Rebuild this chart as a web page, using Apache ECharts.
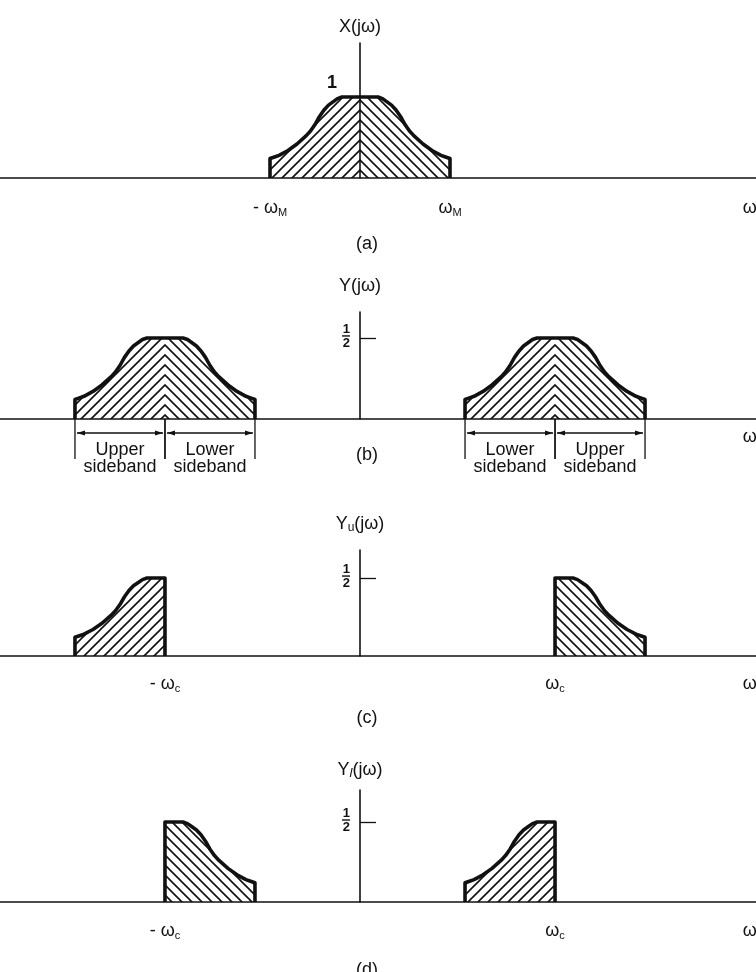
<!DOCTYPE html>
<html>
<head>
<meta charset="utf-8">
<script src="https://cdn.jsdelivr.net/npm/echarts@6/dist/echarts.min.js"></script>
<style>
html, body { margin: 0; padding: 0; background: #fff; }
#chart { width: 756px; height: 972px; }
</style>
</head>
<body>
<div id="chart"></div>
<script>
// frequencies in units of wM
const wM = 1;
const wc = 2.167;
const wEnd = 4.33; // where the "ω" label sits at the right end of each axis

// one half of X(jω): w from 0 out to wM
const profileW = [0, 0.1, 0.2, 0.25, 0.3, 0.35, 0.4, 0.45, 0.5, 0.55, 0.6, 0.7, 0.8, 0.9, 0.95, 1.0];
const profileX = [1, 1, 1, 0.98, 0.94, 0.9, 0.84, 0.76, 0.66, 0.58, 0.52, 0.42, 0.34, 0.28, 0.26, 0.24];

const peaks = [1, 0.5, 0.5, 0.5];
const yMax = [1.667, 0.66, 0.68, 0.70];
const panelNames = ['(a)', '(b)', '(c)', '(d)'];
const sidebandLabels = ['Upper', 'Lower', 'Lower', 'Upper'];

// [centre, side (-1 left half / 1 right half), vertical edge at centre]
const panelShapes = [
	[[0, -1, false], [0, 1, false]],
	[[-wc, -1, false], [-wc, 1, false], [wc, -1, false], [wc, 1, false]],
	[[-wc, -1, true], [wc, 1, true]],
	[[-wc, 1, true], [wc, -1, true]]
];

const ink = '#111';
const font = '"Liberation Sans", Arial, sans-serif';

// grids: top of the y axis and height down to the baseline
const grids = [
	{ top: 43, height: 135 },
	{ top: 312, height: 107 },
	{ top: 550, height: 106 },
	{ top: 790, height: 112 },
	{ top: 419, height: 40 } // dimension lines under (b)
];
const labelMargins = [20, 8, 18, 19];
const nameGaps = [6, 16, 16, 10];
const titleTops = [230, 441, 704, 956];

//斜线填充
function stripeTile(dir) {
	const c = document.createElement('canvas');
	c.width = 10;
	c.height = 10;
	const g = c.getContext('2d');
	g.strokeStyle = ink;
	g.lineWidth = 1.6;
	g.beginPath();
	if(dir == '/') {
		g.moveTo(-2, 12); g.lineTo(12, -2);
		g.moveTo(-2, 2); g.lineTo(2, -2);
		g.moveTo(8, 12); g.lineTo(12, 8);
	} else {
		g.moveTo(-2, -2); g.lineTo(12, 12);
		g.moveTo(8, -2); g.lineTo(12, 2);
		g.moveTo(-2, 8); g.lineTo(2, 12);
	}
	g.stroke();
	return c;
}
const tileUp = stripeTile('/');
const tileDown = stripeTile('\\');

function halfShape(center, side, peak, closed) {
	let pts = profileW.map((w, i) => [center + side * w * wM, peak * profileX[i]]);
	if(side < 0) {
		pts.reverse();
		pts.unshift([center - wM, 0]);
		if(closed) pts.push([center, 0]);
	} else {
		pts.push([center + wM, 0]);
		if(closed) pts.unshift([center, 0]);
	}
	return pts;
}

function xLabel(v, sub) {
	if(v > 4) return '{t|ω}';
	if(v < 0) return '{t|- ω}{s|' + sub + '}';
	return '{t|ω}{s|' + sub + '}';
}

const richX = {
	t: { fontSize: 18, lineHeight: 20, color: ink, fontFamily: font },
	s: { fontSize: 11, lineHeight: 10, verticalAlign: 'bottom', color: ink, fontFamily: font }
};
const richName = {
	t: { fontSize: 18, lineHeight: 20, color: ink, fontFamily: font },
	s: { fontSize: 12, lineHeight: 11, verticalAlign: 'bottom', color: ink, fontFamily: font },
	si: { fontSize: 13, lineHeight: 11, verticalAlign: 'bottom', color: ink, fontFamily: font, fontStyle: 'italic' }
};
const richFrac = {
	n: { fontSize: 13, lineHeight: 11, fontWeight: 'bold', color: ink, fontFamily: font },
	bar: { width: 8, height: 1.4, lineHeight: 3, backgroundColor: ink }
};

const yNames = ['{t|X(jω)}', '{t|Y(jω)}', '{t|Y}{s|u}{t|(jω)}', '{t|Y}{si|l}{t|(jω)}'];
const xSubs = ['M', '', 'c', 'c'];
const xTicks = [[-wM, wM, wEnd], [wEnd], [-wc, wc, wEnd], [-wc, wc, wEnd]];

const xAxes = [];
const yAxes = [];
const series = [];

for(let i = 0; i < 4; i++) {
	xAxes.push({
		type: 'value', gridIndex: i, min: -4, max: 4.4, z: 3,
		axisLine: { lineStyle: { color: ink, width: 1.6 } },
		axisTick: { show: false },
		splitLine: { show: false },
		axisLabel: {
			customValues: xTicks[i],
			margin: labelMargins[i],
			formatter: v => xLabel(v, xSubs[i]),
			rich: richX
		}
	});
	const isA = i == 0;
	yAxes.push({
		type: 'value', gridIndex: i, min: 0, max: yMax[i], z: 3,
		name: yNames[i],
		nameGap: nameGaps[i],
		nameTextStyle: { align: 'center', rich: richName },
		axisLine: { lineStyle: { color: ink, width: 1.6 } },
		splitLine: { show: false },
		axisTick: {
			show: !isA, inside: true, length: 16, customValues: [0.5],
			lineStyle: { color: ink, width: 1.3 }
		},
		axisLabel: { show: false }
	});
	panelShapes[i].forEach(s => {
		series.push({
			type: 'line', xAxisIndex: i, yAxisIndex: i, clip: false, z: 2,
			symbol: 'none', silent: true,
			data: halfShape(s[0], s[1], peaks[i], s[2]),
			lineStyle: { color: ink, width: 3.6, join: 'round' },
			areaStyle: { color: { image: s[1] < 0 ? tileUp : tileDown, repeat: 'repeat' }, opacity: 1 }
		});
	});
	// peak value written next to the vertical axis
	series.push({
		type: 'scatter', xAxisIndex: i, yAxisIndex: i, z: 4, silent: true,
		symbolSize: 0,
		itemStyle: { opacity: 1 },
		data: [[0, peaks[i]]],
		label: isA ? {
			show: true, position: 'left', distance: 23, offset: [0, -14],
			formatter: '1', fontSize: 18, fontWeight: 'bold', color: ink, fontFamily: font
		} : {
			show: true, position: 'left', distance: 10, offset: [0, -2],
			formatter: '{n|1}\n{bar| }\n{n|2}', rich: richFrac
		}
	});
}

// sideband dimension lines below (b)
xAxes.push({ type: 'value', gridIndex: 4, min: -4, max: 4.4, show: false });
yAxes.push({ type: 'value', gridIndex: 4, min: 0, max: 1, show: false });
const bandData = [[-wc - wM, -wc], [-wc, -wc + wM], [wc - wM, wc], [wc, wc + wM]];

function renderBand(params, api) {
	const a = api.coord([api.value(0), 1]);
	const b = api.coord([api.value(1), 1]);
	const yTop = a[1];
	const yBot = api.coord([api.value(0), 0])[1];
	const yArr = api.coord([api.value(0), 0.65])[1];
	const mid = (a[0] + b[0]) / 2;
	const seg = (x1, y1, x2, y2) => ({
		type: 'line', shape: { x1: x1, y1: y1, x2: x2, y2: y2 },
		style: { stroke: ink, lineWidth: 1.3 }
	});
	const head = (tip, dir) => ({
		type: 'polygon',
		shape: { points: [[tip, yArr], [tip + dir * 8, yArr - 2.5], [tip + dir * 8, yArr + 2.5]] },
		style: { fill: ink }
	});
	const label = (text, y) => ({
		type: 'text', x: mid, y: y,
		style: { text: text, fill: ink, font: '18px ' + font, align: 'center', verticalAlign: 'top', textAlign: 'center', textVerticalAlign: 'top' }
	});
	return {
		type: 'group',
		children: [
			seg(a[0], yTop, a[0], yBot),
			seg(b[0], yTop, b[0], yBot),
			seg(a[0] + 2, yArr, b[0] - 2, yArr),
			head(a[0] + 2, 1),
			head(b[0] - 2, -1),
			label(sidebandLabels[params.dataIndex], yBot - 18),
			label('sideband', yBot - 1)
		]
	};
}

series.push({
	type: 'custom', xAxisIndex: 4, yAxisIndex: 4, silent: true,
	renderItem: renderBand,
	data: bandData
});

const chart = echarts.init(document.getElementById('chart'));
chart.setOption({
	animation: false,
	backgroundColor: '#fff',
	textStyle: { fontFamily: font, color: ink },
	title: panelNames.map((t, i) => ({
		text: t, left: 362, top: titleTops[i], textAlign: 'center',
		textStyle: { fontSize: 18, fontWeight: 'normal', color: ink, fontFamily: font }
	})),
	grid: grids.map(g => ({ left: 0, width: 756, top: g.top, height: g.height, containLabel: false, outerBoundsMode: 'none' })),
	xAxis: xAxes,
	yAxis: yAxes,
	series: series
});
</script>
</body>
</html>
